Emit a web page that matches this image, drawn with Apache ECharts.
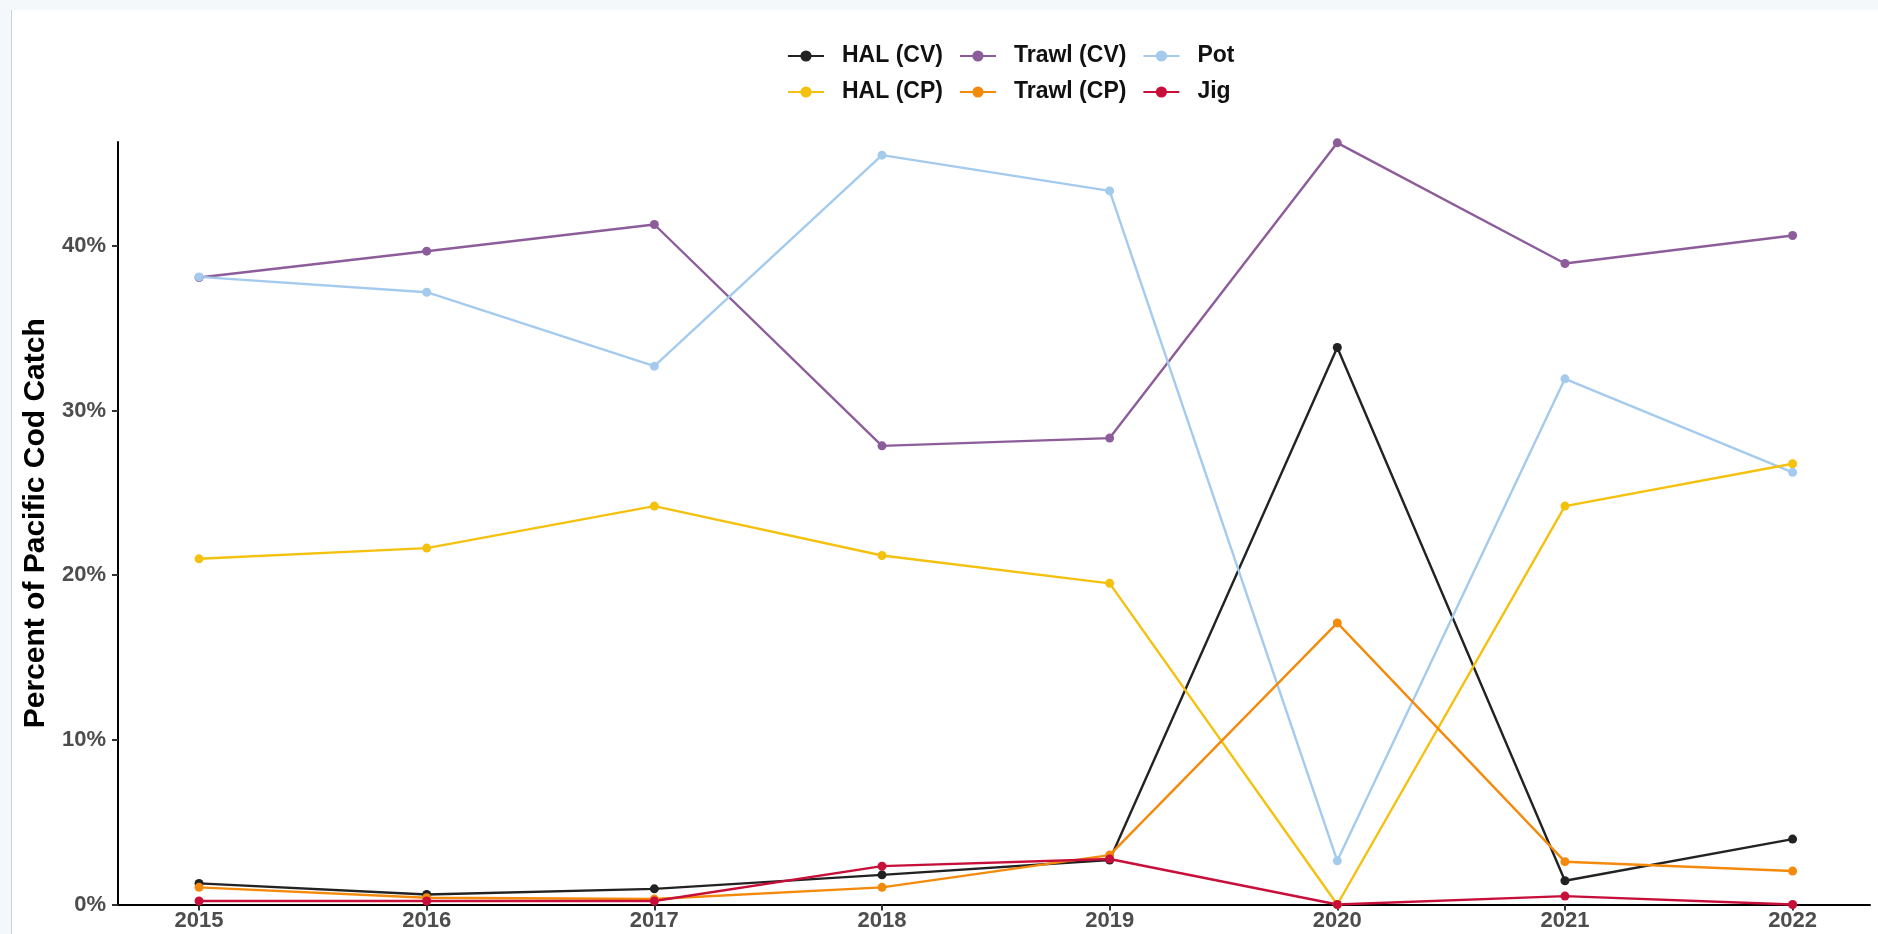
<!DOCTYPE html>
<html>
<head>
<meta charset="utf-8">
<script src="https://cdn.jsdelivr.net/npm/echarts@6/dist/echarts.min.js"></script>
<style>
  html, body { margin: 0; padding: 0; width: 1878px; height: 934px; overflow: hidden; background: #f4f8fb; }
  #panel { position: absolute; left: 11px; top: 10px; width: 1867px; height: 924px; background: #ffffff; border-left: 1px solid #cfd3d6; }
  #chart { position: absolute; left: 0; top: 0; width: 1878px; height: 934px; }
</style>
</head>
<body>
<div id="panel"></div>
<div id="chart"></div>
<script>
const years = [2015, 2016, 2017, 2018, 2019, 2020, 2021, 2022];
const halCV   = [1.28, 0.61, 0.95, 1.80, 2.70, 33.82, 1.44, 3.97];
const trawlCV = [38.07, 39.67, 41.29, 27.85, 28.32, 46.25, 38.92, 40.62];
const pot     = [38.11, 37.18, 32.69, 45.50, 43.33, 2.65, 31.92, 26.24];
const halCP   = [20.99, 21.64, 24.19, 21.19, 19.50, 0.00, 24.19, 26.76];
const trawlCP = [1.04, 0.41, 0.33, 1.04, 3.00, 17.10, 2.60, 2.03];
const jig     = [0.21, 0.21, 0.21, 2.33, 2.76, 0.00, 0.51, 0.00];
const yTicks = [0, 10, 20, 30, 40];
const seriesNames = ['HAL (CV)', 'Trawl (CV)', 'Pot', 'HAL (CP)', 'Trawl (CP)', 'Jig'];
const seriesColors = ['#222222', '#8c5d9a', '#a4cbee', '#f4c10f', '#f48a0b', '#c70f3a'];
const seriesValues = [halCV, trawlCV, pot, halCP, trawlCP, jig];

const font = '"Liberation Sans", Arial, sans-serif';
const chart = echarts.init(document.getElementById('chart'), null, { renderer: 'canvas' });

const legendBase = {
  orient: 'horizontal',
  left: 782,
  itemWidth: 36,
  itemHeight: 14,
  itemGap: 16,
  textStyle: { fontFamily: font, fontWeight: 'bold', fontSize: 23, color: '#111', lineHeight: 26, padding: [0, 0, 0, 13] }
};

const option = {
  backgroundColor: 'transparent',
  animation: false,
  legend: [
    Object.assign({}, legendBase, { top: 38, data: seriesNames.slice(0, 3) }),
    Object.assign({}, legendBase, { top: 74, data: seriesNames.slice(3, 6) })
  ],
  grid: { left: 118, top: 142, width: 1752, height: 762.5, containLabel: false },
  xAxis: {
    type: 'value',
    min: 2014.644,
    max: 2022.34,
    splitLine: { show: false },
    axisLine: { show: true, onZero: false, lineStyle: { color: '#000', width: 2 } },
    axisTick: { show: true, length: 6, customValues: years, lineStyle: { color: '#333', width: 2 } },
    axisLabel: {
      customValues: years,
      formatter: v => String(v),
      margin: 5,
      fontFamily: font, fontWeight: 'bold', fontSize: 22, color: '#4d4d4d'
    }
  },
  yAxis: {
    type: 'value',
    min: 0,
    max: 46.3,
    name: 'Percent of Pacific Cod Catch',
    nameLocation: 'middle',
    nameRotate: 90,
    nameGap: 66,
    nameTextStyle: { fontFamily: font, fontWeight: 'bold', fontSize: 30, color: '#000' },
    splitLine: { show: false },
    axisLine: { show: true, lineStyle: { color: '#000', width: 2 } },
    axisTick: { show: true, length: 6, customValues: yTicks, lineStyle: { color: '#333', width: 2 } },
    axisLabel: {
      customValues: yTicks,
      formatter: v => v + '%',
      margin: 12,
      fontFamily: font, fontWeight: 'bold', fontSize: 22, color: '#4d4d4d'
    }
  },
  series: seriesNames.map((name, i) => ({
    name: name,
    type: 'line',
    data: years.map((y, j) => [y, seriesValues[i][j]]),
    symbol: 'circle',
    symbolSize: 9,
    clip: false,
    lineStyle: { color: seriesColors[i], width: 2.4 },
    itemStyle: { color: seriesColors[i] },
    emphasis: { disabled: true }
  }))
};
chart.setOption(option);
</script>
</body>
</html>
